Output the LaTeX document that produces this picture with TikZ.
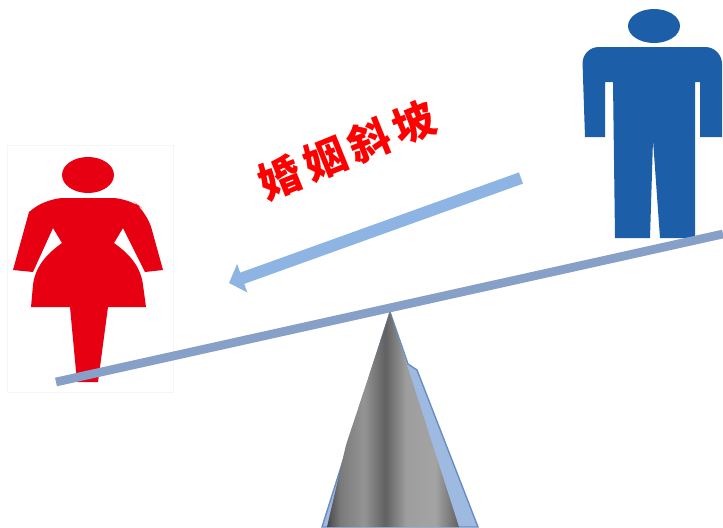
\documentclass[tikz,border=0pt]{standalone}
\usepackage{fontspec}
\newfontfamily\cjk[LetterSpace=15]{Noto Sans CJK SC}
\usetikzlibrary{arrows.meta}

% 颜色
\definecolor{womanred}{RGB}{230,0,18}
\definecolor{manblue}{RGB}{28,94,168}
\definecolor{beamblue}{RGB}{134,160,200}
\definecolor{arrowblue}{RGB}{141,180,226}
\definecolor{conebase}{RGB}{158,186,224}
\definecolor{coneedge}{RGB}{105,140,195}

% 圆锥的横向明暗（25bp 到 75bp 对应圆锥左右边缘）
\pgfdeclarehorizontalshading{coneshade}{100bp}{%
  color(0bp)=(black!72); color(25bp)=(black!72); color(30bp)=(black!52);
  color(39bp)=(black!42); color(47bp)=(black!62); color(55bp)=(black!38);
  color(66bp)=(black!36); color(75bp)=(black!62); color(100bp)=(black!62)}

\begin{document}
\begin{tikzpicture}[x=0.025cm, y=-0.025cm,
    % 女性剪影
    woman/.style={fill=womanred},
    % 男性剪影
    man/.style={fill=manblue},
    % 杠杆横梁
    beam/.style={draw=beamblue, line width=6.2pt},
    % 支点底色（圆锥外侧的蓝边）
    pivotback/.style={fill=conebase, draw=coneedge, line width=1pt},
    % 支点圆锥
    pivot/.style={shading=coneshade},
    % 斜坡箭头
    slope/.style={draw=arrowblue, line width=8.5pt,
        -{Triangle[length=10pt, width=21pt]}},
    % 标题文字
    title/.style={text=red, inner sep=0pt, rotate=22,
        font=\cjk\bfseries\fontsize{30}{30}\selectfont}
]

    % 画布大小（单位为像素）
    \useasboundingbox (0,0) rectangle (723,527);

    % 1. 女性图片的浅色边框
    \draw[black!4] (7,145) rectangle (173,392);

    % 2. 女性剪影
    \fill[woman] (88,175) ellipse [x radius=26, y radius=18];
    \fill[woman, rounded corners=12pt]
        (47,198) -- (129,198) -- (147,212) [sharp corners]
        -- (163,270) -- (145,272) -- (123,228) -- (114,243)
        .. controls (131,255) and (141,268) .. (143,285)
        -- (146,307) -- (108,307) -- (98,382) -- (77,382) -- (70,307)
        -- (31,307) -- (33,285)
        .. controls (35,268) and (45,255) .. (62,243)
        -- (53,228) -- (33,272) -- (13,270) -- (29,212) [rounded corners=12pt]
        -- cycle;

    % 3. 男性剪影
    \fill[man] (654,26) ellipse [x radius=26, y radius=17];
    \fill[man, rounded corners=12pt]
        (582,47) -- (722,47) [sharp corners]
        -- (722,137) -- (700,137) -- (700,82) -- (695,82) -- (695,238)
        -- (660,238) -- (653,140) -- (650,238) -- (615,238) -- (613,82)
        -- (605,82) -- (605,137) -- (585,137) [rounded corners=12pt]
        -- cycle;

    % 4. 支点（圆锥）
    \coordinate (apex) at (390,312);
    \filldraw[pivotback] (apex) -- (408,364) -- (417,370) -- (478,527)
        -- (322,527) -- cycle;
    \shade[pivot] (apex) -- (459,527) -- (327,527) -- (346,445) -- cycle;

    % 5. 横梁
    \coordinate (beamleft) at (56,382);
    \coordinate (beamright) at (723,234);
    \draw[beam] (beamleft) -- (beamright);

    % 6. 斜坡箭头与文字
    \coordinate (arrowtail) at (521,178);
    \coordinate (arrowtip) at (229,283);
    \draw[slope] (arrowtail) -- (arrowtip);
    \node[title] (slopetext) at (347,150) {婚姻斜坡};

\end{tikzpicture}
\end{document}
